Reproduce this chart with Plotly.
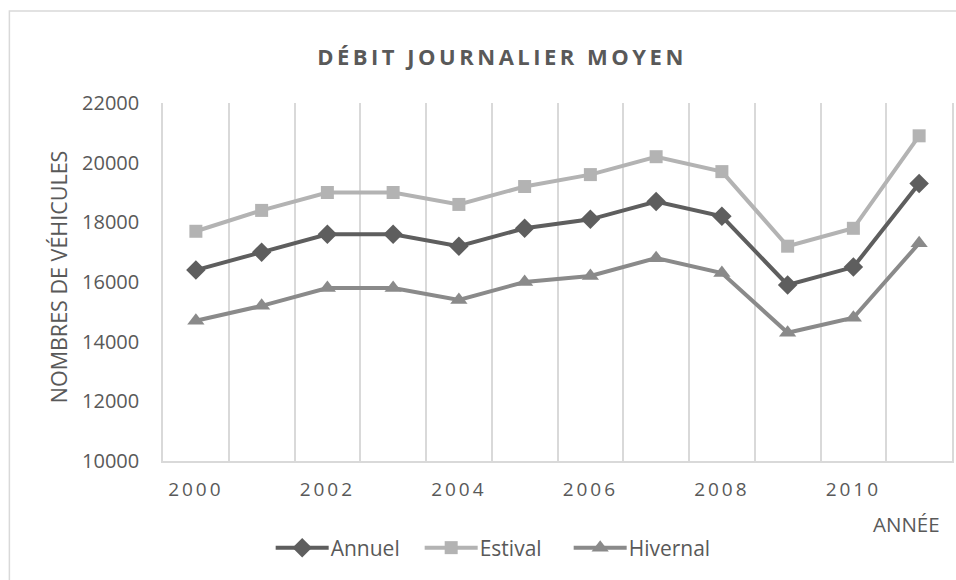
import plotly.graph_objects as go

years = [2000, 2001, 2002, 2003, 2004, 2005, 2006, 2007, 2008, 2009, 2010, 2011]
annuel = [16400, 17000, 17600, 17600, 17200, 17800, 18100, 18700, 18200, 15900, 16500, 19300]
estival = [17700, 18400, 19000, 19000, 18600, 19200, 19600, 20200, 19700, 17200, 17800, 20900]
hivernal = [14700, 15200, 15800, 15800, 15400, 16000, 16200, 16800, 16300, 14300, 14800, 17300]
x_tickvals = [2000, 2002, 2004, 2006, 2008, 2010]
y_tickvals = [10000, 12000, 14000, 16000, 18000, 20000, 22000]

W, H = 956, 580
L, R, T, B = 163, 2, 103, 119
PW, PH = W - L - R, H - T - B

def px(xp):
    return (xp - L) / PW

def py(yp):
    return (H - B - yp) / PH

FONT = "Open Sans"
TXT = "#595959"
GRID = "#d9d9d9"

fig = go.Figure()
series = [
    ("Annuel", annuel, "#5e5e5e", "diamond", 15),
    ("Estival", estival, "#b3b3b3", "square", 13),
    ("Hivernal", hivernal, "#8a8a8a", "triangle-up", 15),
]
for name, vals, col, sym, sz in series:
    fig.add_trace(go.Scatter(
        x=years, y=vals, name=name, mode="lines+markers",
        line=dict(color=col, width=4),
        marker=dict(symbol=sym, size=sz, color=col),
    ))

fig.update_layout(
    width=W, height=H,
    margin=dict(l=L, r=R, t=T, b=B),
    paper_bgcolor="white", plot_bgcolor="white",
    font=dict(family=FONT, color=TXT, size=20),
    title=dict(text="<b>DÉBIT JOURNALIER MOYEN</b>", x=502 / W, xanchor="center",
               y=1 - 57 / H, yanchor="middle",
               font=dict(family=FONT, size=22, color=TXT)),
    showlegend=True,
    legend=dict(orientation="h", x=px(291), xanchor="left", y=py(548), yanchor="middle",
                entrywidth=104, entrywidthmode="pixels",
                font=dict(family=FONT, size=21, color=TXT), bgcolor="rgba(0,0,0,0)"),
    xaxis=dict(range=[1999.5, 2011.5], tickmode="array", tickvals=x_tickvals,
               ticktext=[str(v) for v in x_tickvals],
               showgrid=False, zeroline=False,
               showline=True, linecolor=GRID, linewidth=1.5,
               ticks="outside", ticklen=10, tickcolor="rgba(0,0,0,0)",
               tickfont=dict(family=FONT, size=19, color=TXT),
               minor=dict(tickmode="linear", tick0=1999.5, dtick=1, showgrid=True,
                          gridcolor=GRID, gridwidth=1.5, ticks="")),
    yaxis=dict(range=[10000, 22000], tickmode="array", tickvals=y_tickvals,
               ticktext=[str(v) for v in y_tickvals],
               showgrid=False, zeroline=False,
               showline=True, mirror=True, linecolor=GRID, linewidth=1.5,
               ticks="outside", ticklen=18, tickcolor="rgba(0,0,0,0)",
               tickfont=dict(family=FONT, size=20, color=TXT)),
    annotations=[
        dict(text="NOMBRES DE VÉHICULES", xref="paper", yref="paper", x=px(58), y=py(277),
             xanchor="center", yanchor="middle", textangle=-90, showarrow=False,
             font=dict(family=FONT, size=21.5, color=TXT)),
        dict(text="ANNÉE", xref="paper", yref="paper", x=px(908), y=py(524),
             xanchor="center", yanchor="middle", showarrow=False,
             font=dict(family=FONT, size=20.5, color=TXT)),
    ],
    shapes=[
        dict(type="rect", xref="paper", yref="paper", x0=px(9), x1=px(990), y0=py(600), y1=py(11),
             line=dict(color=GRID, width=1.5), fillcolor="rgba(0,0,0,0)", layer="below"),
    ],
)

post = """
document.body.style.margin = '0';
document.body.style.padding = '0';
var gd = document.getElementById('{plot_id}');
function ls(){
  gd.querySelectorAll('.gtitle').forEach(function(e){e.style.letterSpacing='3.5px';});
  gd.querySelectorAll('.xtick text').forEach(function(e){e.style.letterSpacing='3px';});
  gd.querySelectorAll('.legend [clip-path]').forEach(function(e){e.removeAttribute('clip-path');});
  gd.querySelectorAll('.legend .legendlines path').forEach(function(e){e.setAttribute('d','M-15,0h53');});
  gd.querySelectorAll('.legend .legendpoints path').forEach(function(e){e.setAttribute('transform','translate(11.5,0)');});
}
ls();
gd.on('plotly_afterplot', ls);
"""
fig.write_html("out.html", post_script=post, config={"displayModeBar": False})
